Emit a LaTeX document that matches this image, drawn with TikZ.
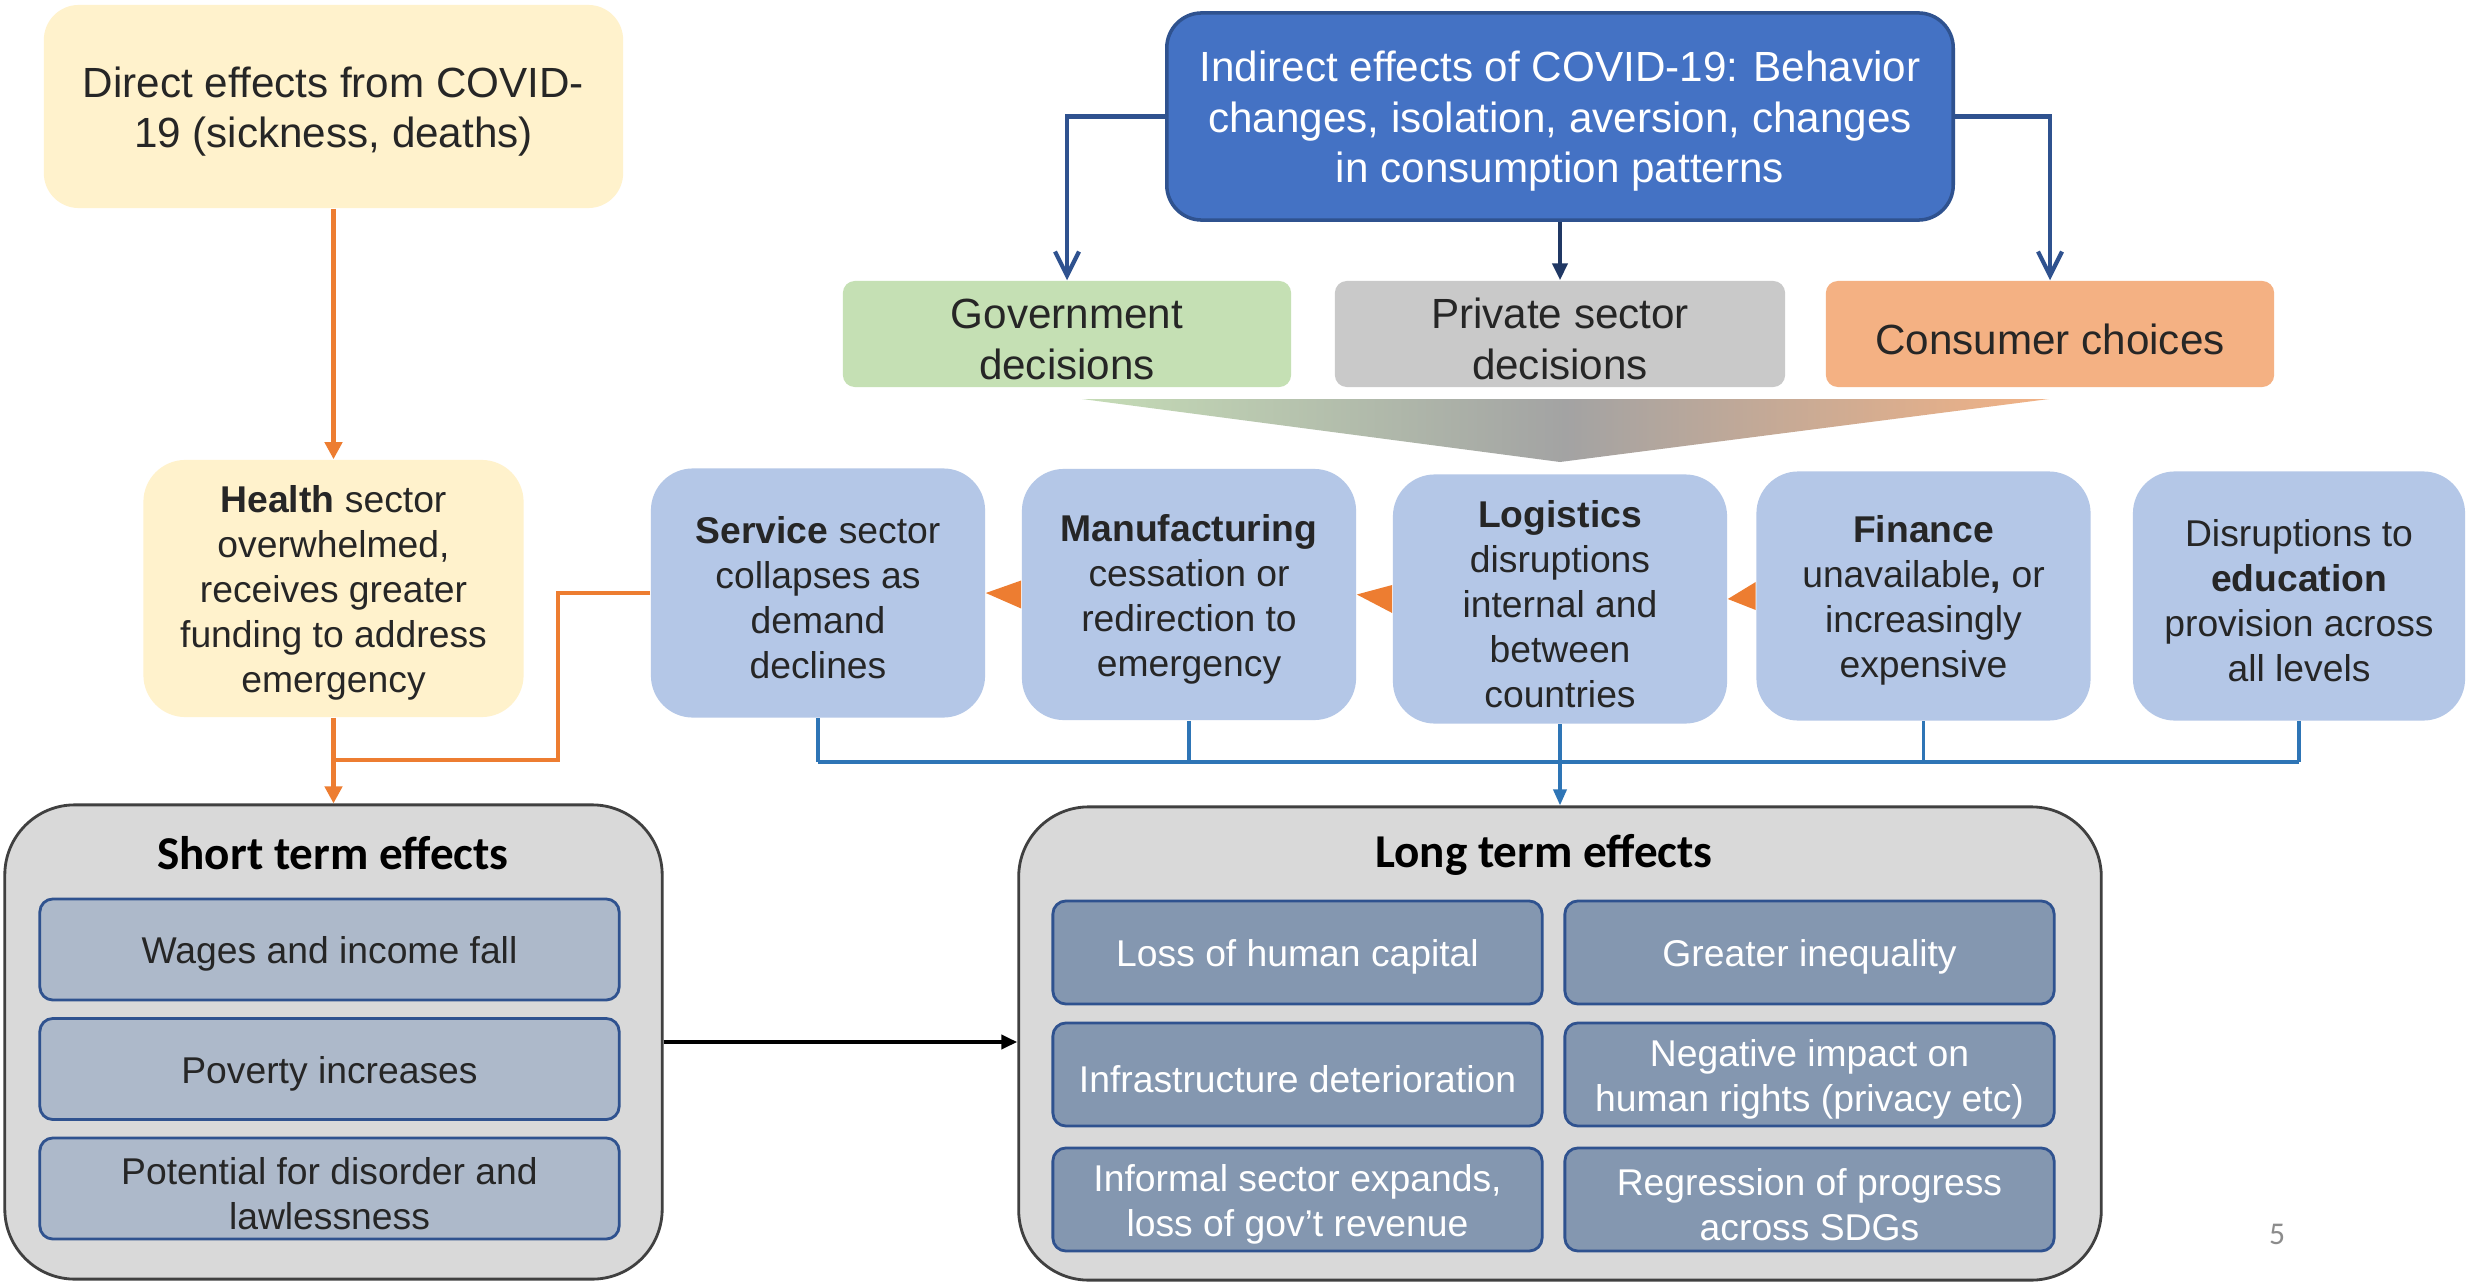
\documentclass[tikz,border=0pt]{standalone}
\usepackage{fontspec}
\setmainfont{Liberation Sans}
\newfontfamily\calib{Carlito}
\usetikzlibrary{arrows.meta}

\definecolor{cyel}{HTML}{FFF2CC}
\definecolor{cblue}{HTML}{4472C4}
\definecolor{cbluedk}{HTML}{2F528F}
\definecolor{cgreen}{HTML}{C5E0B4}
\definecolor{cgray}{HTML}{C9C9C9}
\definecolor{corange}{HTML}{F4B183}
\definecolor{cline}{HTML}{ED7D31}
\definecolor{clight}{HTML}{B4C7E7}
\definecolor{cbus}{HTML}{2E75B6}
\definecolor{cpanel}{HTML}{D9D9D9}
\definecolor{cpanelb}{HTML}{404040}
\definecolor{cshort}{HTML}{ADB9CA}
\definecolor{clong}{HTML}{8497B0}
\definecolor{ctext}{HTML}{262626}
\definecolor{cnavy}{HTML}{203864}
\definecolor{cgl}{HTML}{C5DCB6}
\definecolor{cgm}{HTML}{A3A3A3}
\definecolor{cgr}{HTML}{F2B285}
\definecolor{cpg}{HTML}{8C8C8C}

\newcommand\mystrutA{\rule{0pt}{11.5pt}}
\newcommand\mystrutB{\rule{0pt}{10.4pt}}

\begin{document}
\begin{tikzpicture}[x=0.01cm,y=-0.01cm,
  bigtxt/.style={font=\fontsize{12}{14.4}\selectfont, text=ctext, align=center, inner sep=0pt},
  smalltxt/.style={font=\fontsize{10.6}{12.8}\selectfont, text=ctext, align=center, inner sep=0pt},
  topbox/.style={bigtxt, rounded corners=0.12cm, minimum width=4.48cm, minimum height=1.06cm},
  rowbox/.style={smalltxt, fill=clight, rounded corners=0.42cm, minimum width=3.34cm, minimum height=2.49cm},
  panel/.style={fill=cpanel, draw=cpanelb, line width=0.8pt, rounded corners=0.7cm, inner sep=0pt},
  sitem/.style={smalltxt, fill=cshort, draw=cbluedk, line width=0.8pt, rounded corners=0.13cm, minimum width=5.79cm, minimum height=1.01cm},
  litem/.style={smalltxt, text=white, fill=clong, draw=cbluedk, line width=0.8pt, rounded corners=0.13cm, minimum width=4.89cm, minimum height=1.03cm},
  ptitle/.style={font={\calib\bfseries\fontsize{13.4}{16}\selectfont}, text=black, inner sep=0pt},
  oline/.style={draw=cline, line width=1.2pt},
  oarrow/.style={-{Triangle[length=0.17cm,width=0.17cm]}},
  navyline/.style={draw=cbluedk, line width=1.2pt},
  openarrow/.style={-{Straight Barb[length=0.24cm,width=0.24cm,line width=1.2pt]}},
  bline/.style={draw=cbus, line width=1pt},
  busline/.style={draw=cbus, line width=1.4pt}
]
\useasboundingbox (0,0) rectangle (2466,1282);
\fill[white] (0,0) rectangle (2466,1282);

% top left direct effects
\node[bigtxt, fill=cyel, rounded corners=0.35cm, minimum width=5.79cm, minimum height=2.03cm] (direct) at (333.5,106.5)
  {\mystrutA Direct effects from COVID-\\19 (sickness, deaths)};

% indirect effects
\node[bigtxt, text=white, fill=cblue, draw=cbluedk, line width=1pt, rounded corners=0.35cm, minimum width=7.86cm, minimum height=2.07cm] (indirect) at (1560,116.5)
  {\mystrutA Indirect effects of COVID-19: Behavior\\changes, isolation, aversion, changes\\in consumption patterns};

% decision boxes
\node[topbox, fill=cgreen] (gov) at (1067,334) {\mystrutA Government\\decisions};
\node[topbox, fill=cgray, minimum width=4.5cm] (priv) at (1560,334) {\mystrutA Private sector\\decisions};
\node[topbox, fill=corange] (cons) at (2050,334) {\mystrutA Consumer choices};

% gradient triangle
\shade[left color=cgl, right color=cgr, middle color=cgm] (1082,399) -- (2049,399) -- (1560,462) -- cycle;

% health
\node[smalltxt, fill=cyel, rounded corners=0.42cm, minimum width=3.80cm, minimum height=2.57cm] (health) at (333.5,588.5)
  {\mystrutB\textbf{Health} sector\\overwhelmed,\\receives greater\\funding to address\\emergency};

% row of sector boxes
\node[rowbox] (serv) at (818,593) {\mystrutB\textbf{Service} sector\\collapses as\\demand\\declines};
\node[rowbox, minimum height=2.51cm] (manu) at (1189,594.5) {\mystrutB\textbf{Manufacturing}\\cessation or\\redirection to\\emergency};
\node[rowbox] (logi) at (1560,599) {\mystrutB\textbf{Logistics}\\disruptions\\internal and\\between\\countries};
\node[rowbox] (fin) at (1923.5,596) {\mystrutB\textbf{Finance}\\unavailable\textbf{,} or\\increasingly\\expensive};
\node[rowbox, minimum width=3.32cm] (edu) at (2299,596) {\mystrutB Disruptions to\\\textbf{education}\\provision across\\all levels};

% small orange triangles between boxes
\fill[cline] (serv.east) -- ([yshift=0.14cm]manu.west) -- ([yshift=-0.14cm]manu.west) -- cycle;
\fill[cline] (manu.east) -- ([yshift=0.14cm]logi.west) -- ([yshift=-0.14cm]logi.west) -- cycle;
\fill[cline] (logi.east) -- ([yshift=0.14cm]fin.west) -- ([yshift=-0.14cm]fin.west) -- cycle;

% short term panel
\node[panel, minimum width=6.57cm, minimum height=4.74cm] (short) at (333.5,1042) {};
\node[ptitle] (stitle) at (333,853) {Short term effects};
\node[sitem] (s1) at (329.5,949.5) {\mystrutB Wages and income fall};
\node[sitem] (s2) at (329.5,1069) {\mystrutB Poverty increases};
\node[sitem] (s3) at (329.5,1188.5) {\mystrutB Potential for disorder and\\lawlessness};

% long term panel
\node[panel, minimum width=10.82cm, minimum height=4.73cm] (long) at (1560,1043.5) {};
\node[ptitle] (ltitle) at (1544,855) {Long term effects};
\node[litem] (l1) at (1297.5,952.5) {\mystrutB Loss of human capital};
\node[litem] (l2) at (1809.5,952.5) {\mystrutB Greater inequality};
\node[litem] (l3) at (1297.5,1074.5) {\mystrutB Infrastructure deterioration};
\node[litem] (l4) at (1809.5,1074.5) {\mystrutB Negative impact on\\human rights (privacy etc)};
\node[litem] (l5) at (1297.5,1199.5) {\mystrutB Informal sector expands,\\loss of gov’t revenue};
\node[litem] (l6) at (1809.5,1199.5) {\mystrutB Regression of progress\\across SDGs};

% page number
\node[font={\calib\fontsize{9}{10}\selectfont}, text=cpg, inner sep=0pt] (pg) at (2277,1234) {5};

% top connectors
\draw[navyline, openarrow] (indirect.west) -| (gov.north);
\draw[navyline, openarrow] (indirect.east) -| (cons.north);
\draw[draw=cnavy, line width=1.2pt, -{Triangle[length=0.17cm,width=0.15cm]}] (indirect.south) -- (priv.north);

% orange connectors
\draw[oline, oarrow] (direct.south) -- (health.north);
\draw[oline, oarrow] (health.south) -- (short.north);
\coordinate (oj) at (558,760);
\draw[oline] (serv.west) -| (oj) -- (oj -| health.south);

% blue bus
\coordinate (bus) at (1560,762);
\draw[bline] (serv.south) -- (serv.south |- bus);
\draw[bline] (manu.south) -- (manu.south |- bus);
\draw[bline] (fin.south) -- (fin.south |- bus);
\draw[bline] (edu.south) -- (edu.south |- bus);
\draw[busline] (serv.south |- bus) -- (edu.south |- bus);
\draw[bline, -{Triangle[length=0.16cm,width=0.13cm]}] (logi.south) -- (long.north);

% short to long
\draw[line width=1.2pt, -{Triangle[length=0.16cm,width=0.14cm]}] (short.east) -- (short.east -| long.west);
\end{tikzpicture}
\end{document}
